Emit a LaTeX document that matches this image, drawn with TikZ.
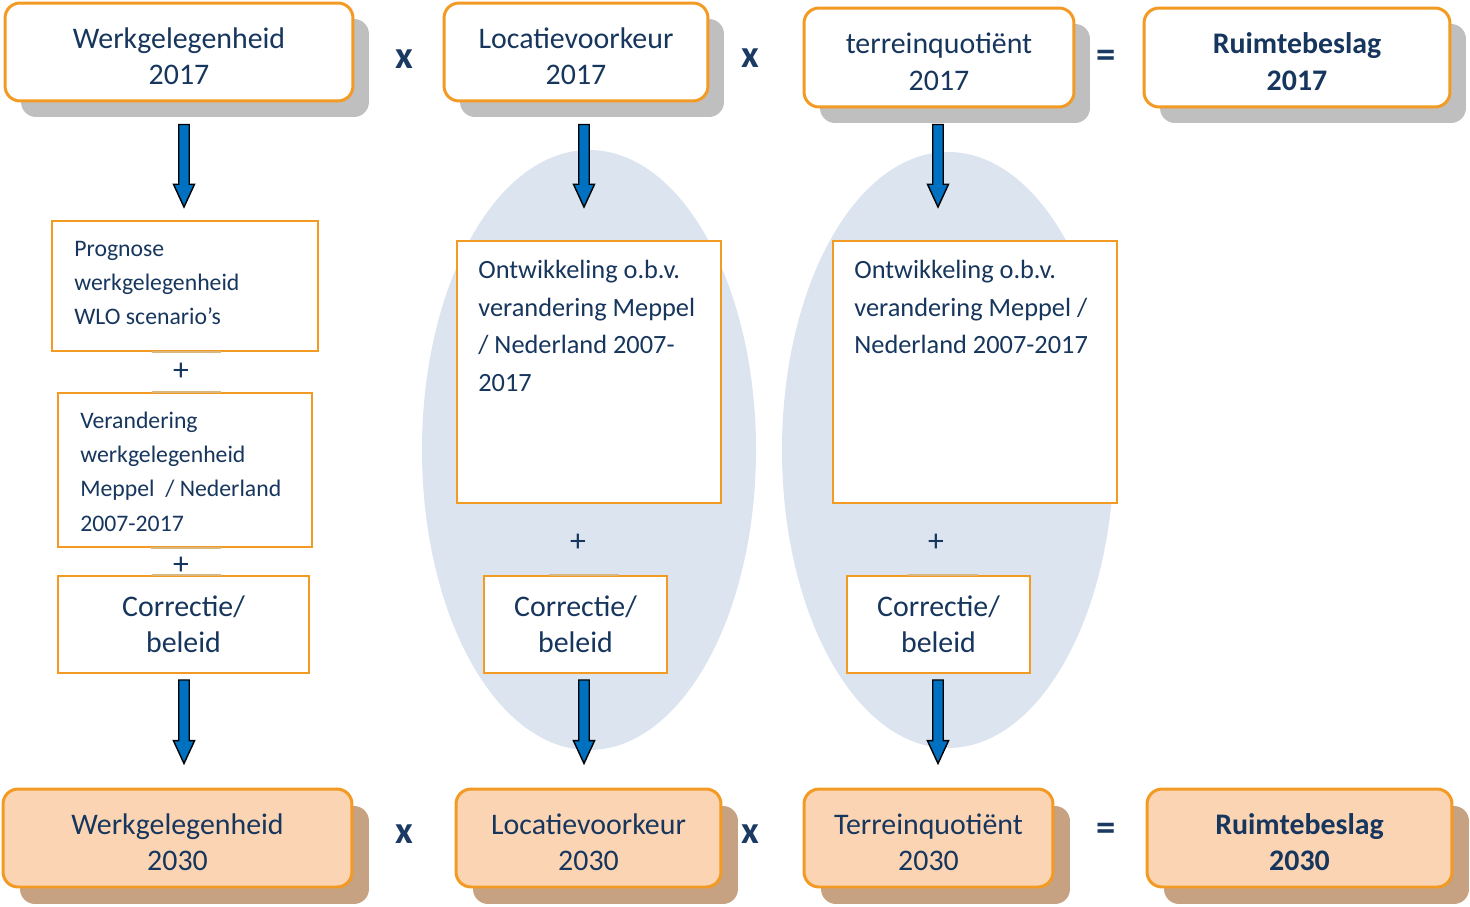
\documentclass[tikz,border=0pt]{standalone}
\usepackage{fontspec}
\setmainfont{Carlito}
\usetikzlibrary{positioning,calc,shadows}
\definecolor{boxorange}{HTML}{F39A23}
\definecolor{txtblue}{HTML}{17365D}
\definecolor{opblue}{HTML}{1B3A63}
\definecolor{peach}{HTML}{FBD4B4}
\definecolor{shadowgray}{HTML}{BFBFBF}
\definecolor{shadowbrown}{HTML}{C6A282}
\definecolor{ellblue}{HTML}{DCE4F0}
\definecolor{arrowblue}{HTML}{0070C0}
\definecolor{seamtan}{HTML}{D9B77E}
\tikzset{
  rbase/.style={draw=boxorange, line width=1.7pt, rounded corners=0.3cm, align=center, text=txtblue, font=\fontsize{17}{20.5}\selectfont, text height=37pt, text depth=0pt},
  oldbox/.style={rbase, fill=white, drop shadow={shadow xshift=0.32cm, shadow yshift=-0.32cm, fill=shadowgray, opacity=1}},
  newbox/.style={rbase, fill=peach, drop shadow={shadow xshift=0.34cm, shadow yshift=-0.34cm, fill=shadowbrown, opacity=1}},
  pbox/.style={draw=boxorange, line width=1.1pt, fill=white, align=center, text=txtblue, font=\fontsize{17}{20.5}\selectfont},
  ltxt/.style={text=txtblue, align=left, inner sep=0pt, anchor=north west, font=\fontsize{13.5}{19.4}\selectfont},
  mtxt/.style={ltxt, font=\fontsize{15}{21.4}\selectfont},
  optxt/.style={text=opblue, font=\bfseries\fontsize{22}{24}\selectfont},
  plus/.style={text=txtblue, font=\fontsize{18}{20}\selectfont},
  cloud/.style={fill=ellblue},
  seam/.style={draw=seamtan, line width=1.5pt},
  blockarrow/.style={draw=black, fill=arrowblue, line width=0.8pt},
}
\newcommand{\flowarrow}[2]{%
  \path[blockarrow] let \p1=(#1), \p2=(#2) in
    (\x1-3pt,\y1) -- (\x1+3pt,\y1) -- (\x1+3pt,\y2+13pt) -- (\x1+6pt,\y2+13pt)
    -- (\x1,\y2) -- (\x1-6pt,\y2+13pt) -- (\x1-3pt,\y2+13pt) -- cycle;}

\begin{document}
\begin{tikzpicture}[x=0.02cm, y=-0.02cm]
\useasboundingbox (0,0) rectangle (1470,906);

% background ellipses
\fill[cloud] (589,450) ellipse [x radius=167, y radius=300];
\fill[cloud] (948,450) ellipse [x radius=166, y radius=298];

% situation 2017
\node[oldbox, minimum width=6.96cm, minimum height=1.96cm] (w17) at (179,52) {Werkgelegenheid\\2017};
\node[oldbox, minimum width=5.28cm, minimum height=1.96cm] (lv17) at (576,52) {Locatievoorkeur\\2017};
\node[oldbox, minimum width=5.4cm, minimum height=1.98cm] (tq17) at (939,57.5) {terreinquoti\"ent\\2017};
\node[oldbox, minimum width=6.12cm, minimum height=1.98cm, font=\bfseries\fontsize{17}{20.5}\selectfont] (rb17) at (1297,57.5) {Ruimtebeslag\\2017};

\node[optxt] (op1) at (404,59) {x};
\node[optxt] (op2) at (750,58) {x};
\node[optxt] (op3) at (1106,59) {=};

% left column
\node[pbox, minimum width=5.32cm, minimum height=2.6cm] (prog) at (185,286) {};
\node[ltxt] (progtxt) at (74,241) {Prognose\\werkgelegenheid\\WLO scenario’s};
\node[plus] (plus1) at (181,372) {+};
\node[pbox, minimum width=5.08cm, minimum height=3.08cm] (ver) at (185,470) {};
\node[ltxt] (vertxt) at (80,412) {Verandering\\werkgelegenheid\\Meppel~~/ Nederland\\2007-2017};
\node[plus] (plus2) at (181,566) {+};
\node[pbox, minimum width=5.02cm, minimum height=1.94cm] (cor1) at (183.5,624.5) {Correctie/\\beleid};

% middle column
\node[pbox, minimum width=5.28cm, minimum height=5.24cm] (ont1) at (589,372) {};
\node[mtxt] (ont1txt) at (478,260) {Ontwikkeling o.b.v.\\verandering Meppel\\/ Nederland 2007-\\2017};
\node[plus] (plus3) at (578,543) {+};
\node[pbox, minimum width=3.66cm, minimum height=1.94cm] (cor2) at (575.5,624.5) {Correctie/\\beleid};

% right column
\node[pbox, minimum width=5.68cm, minimum height=5.24cm] (ont2) at (975,372) {};
\node[mtxt] (ont2txt) at (854,260) {Ontwikkeling o.b.v.\\verandering Meppel /\\Nederland 2007-2017};
\node[plus] (plus4) at (936,543) {+};
\node[pbox, minimum width=3.66cm, minimum height=1.94cm] (cor3) at (938.5,624.5) {Correctie/\\beleid};

% seams where the plus signs meet the boxes
\draw[seam] ($(prog.south)+(-33,0)$) -- ($(prog.south)+(36,0)$);
\draw[seam] ($(ver.north)+(-33,0)$) -- ($(ver.north)+(36,0)$);
\draw[seam] ($(ver.south)+(-34,0)$) -- ($(ver.south)+(36,0)$);
\draw[seam] ($(cor1.north)+(-32,0)$) -- ($(cor1.north)+(37,0)$);
\draw[seam] ($(cor2.north)+(-27,0)$) -- ($(cor2.north)+(43,0)$);
\draw[seam] ($(cor3.north)+(-31,0)$) -- ($(cor3.north)+(39,0)$);

% situation 2030
\node[newbox, minimum width=6.98cm, minimum height=1.96cm] (w30) at (177.5,838) {Werkgelegenheid\\2030};
\node[newbox, minimum width=5.3cm, minimum height=1.96cm] (lv30) at (588.5,838) {Locatievoorkeur\\2030};
\node[newbox, minimum width=4.98cm, minimum height=1.96cm] (tq30) at (928.5,838) {Terreinquoti\"ent\\2030};
\node[newbox, minimum width=6.1cm, minimum height=1.96cm, font=\bfseries\fontsize{17}{20.5}\selectfont] (rb30) at (1299.5,838) {Ruimtebeslag\\2030};

\node[optxt] (op4) at (404,834) {x};
\node[optxt] (op5) at (750,834) {x};
\node[optxt] (op6) at (1106,832) {=};

% arrows
\flowarrow{$(w17.south)+(5,22)$}{$(prog.north)+(0,-13)$}
\flowarrow{$(lv17.south)+(8,22)$}{$(ont1.north)+(0,-33)$}
\flowarrow{$(tq17.south)+(-1,16)$}{$(ont2.north)+(0,-33)$}
\flowarrow{$(cor1.south)+(0.5,6)$}{$(w30.north)+(0,-24)$}
\flowarrow{$(cor2.south)+(8.5,6)$}{$(lv30.north)+(0,-24)$}
\flowarrow{$(cor3.south)+(-0.5,6)$}{$(tq30.north)+(0,-24)$}

\end{tikzpicture}
\end{document}
